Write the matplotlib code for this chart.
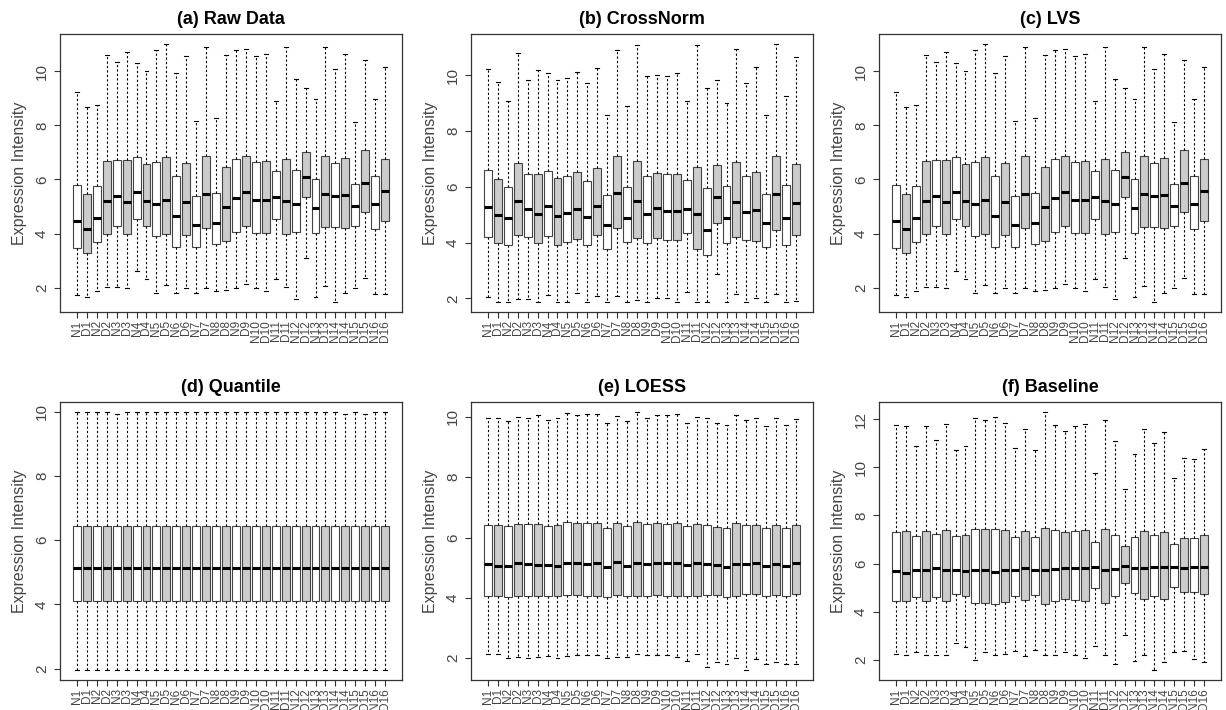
import matplotlib
matplotlib.use('Agg')
import matplotlib.pyplot as plt

plt.rcParams['font.family'] = ['Liberation Sans', 'DejaVu Sans']

# sample labels: N1, D1, N2, D2, ... N16, D16
labels = []
for i in range(1, 17):
    labels += ['N%d' % i, 'D%d' % i]

# (a) Raw Data: whisker low, q1, median, q3, whisker high
raw_lo  = [1.73, 1.65, 1.87, 2.02, 2.02, 2.00, 2.60, 2.32, 1.80, 2.10, 1.80, 2.00, 1.80, 2.00, 1.87, 1.90,
           2.00, 2.15, 2.00, 1.87, 2.33, 2.03, 1.58, 3.10, 1.67, 2.07, 1.48, 1.80, 1.98, 2.37, 1.77, 1.77]
raw_q1  = [3.47, 3.27, 3.70, 4.00, 4.27, 4.00, 4.55, 4.28, 3.92, 4.00, 3.52, 3.95, 3.50, 4.20, 3.60, 3.72,
           4.07, 4.28, 4.02, 4.02, 4.53, 3.97, 4.05, 5.35, 4.03, 4.25, 4.25, 4.22, 4.28, 4.80, 4.18, 4.48]
raw_med = [4.45, 4.17, 4.58, 5.22, 5.38, 5.18, 5.52, 5.22, 5.10, 5.25, 4.65, 5.15, 4.30, 5.45, 4.40, 4.98,
           5.32, 5.52, 5.25, 5.25, 5.37, 5.22, 5.08, 6.10, 4.95, 5.45, 5.38, 5.42, 5.02, 5.87, 5.08, 5.57]
raw_q3  = [5.80, 5.45, 5.77, 6.68, 6.73, 6.72, 6.85, 6.57, 6.65, 6.82, 6.13, 6.60, 5.38, 6.88, 5.50, 6.48,
           6.75, 6.88, 6.63, 6.68, 6.33, 6.77, 6.35, 7.00, 6.02, 6.88, 6.60, 6.80, 5.82, 7.08, 6.12, 6.75]
raw_hi  = [9.22, 8.68, 8.75, 10.60, 10.35, 10.70, 10.30, 10.00, 10.80, 11.00, 9.92, 10.58, 8.15, 10.90, 8.27, 10.60,
           10.78, 10.82, 10.57, 10.65, 8.92, 10.90, 9.72, 9.38, 8.97, 10.90, 10.10, 10.65, 8.12, 10.42, 8.98, 10.15]

# (b) CrossNorm
cn_lo  = [2.05, 1.88, 1.88, 1.97, 1.97, 1.88, 2.13, 1.88, 1.88, 2.20, 1.88, 2.07, 1.88, 2.10, 1.88, 1.93,
          1.88, 2.00, 2.00, 1.88, 2.23, 1.88, 1.88, 2.87, 1.88, 2.17, 1.88, 2.03, 1.88, 2.15, 1.88, 1.90]
cn_q1  = [4.20, 3.98, 3.93, 4.28, 4.20, 3.97, 4.23, 3.93, 4.03, 4.13, 3.90, 4.27, 3.77, 4.52, 4.03, 4.17,
          4.00, 4.17, 4.10, 4.08, 4.33, 3.78, 3.57, 4.72, 4.00, 4.20, 4.08, 4.05, 3.83, 4.45, 3.93, 4.27]
cn_med = [5.28, 4.98, 4.87, 5.50, 5.20, 5.03, 5.30, 4.97, 5.07, 5.20, 4.93, 5.33, 4.65, 5.80, 4.90, 5.50,
          5.02, 5.23, 5.13, 5.13, 5.20, 5.03, 4.45, 5.63, 4.90, 5.47, 5.10, 5.17, 4.70, 5.75, 4.87, 5.43]
cn_q3  = [6.60, 6.28, 6.00, 6.87, 6.45, 6.48, 6.57, 6.33, 6.38, 6.55, 6.22, 6.67, 5.70, 7.10, 6.00, 6.92,
          6.38, 6.50, 6.45, 6.48, 6.25, 6.70, 5.97, 6.77, 6.02, 6.88, 6.38, 6.53, 5.73, 7.12, 6.08, 6.83]
cn_hi  = [10.25, 9.75, 9.10, 10.80, 9.85, 10.18, 10.08, 9.85, 9.92, 10.12, 9.73, 10.28, 8.58, 10.90, 8.90, 11.10,
          9.98, 10.02, 9.97, 10.08, 9.10, 11.10, 9.55, 9.85, 9.00, 10.95, 9.73, 10.32, 8.58, 11.12, 9.28, 10.67]

# (c) LVS (reads the same as the raw data)
lvs_lo, lvs_q1, lvs_med, lvs_q3, lvs_hi = raw_lo, raw_q1, raw_med, raw_q3, raw_hi

# (d) Quantile
qn_lo  = [1.97] * 32
qn_q1  = [4.10] * 32
qn_med = [5.15] * 32
qn_q3  = [6.45] * 32
qn_hi  = [9.98, 9.98, 9.98, 9.98, 9.93, 9.98, 9.98, 9.98, 9.98, 9.98, 9.98, 9.98, 9.98, 9.98, 9.98, 9.98,
          9.98, 9.98, 9.98, 9.98, 9.98, 9.98, 9.98, 9.98, 9.98, 9.98, 9.98, 9.93, 9.98, 9.93, 9.98, 9.98]

# (e) LOESS
lo_lo  = [2.14, 2.13, 2.00, 2.03, 2.00, 2.03, 2.08, 2.00, 2.07, 2.10, 2.10, 2.10, 2.00, 2.03, 2.05, 2.15,
          2.10, 2.10, 2.10, 2.03, 1.92, 2.13, 1.70, 1.88, 1.82, 2.02, 1.62, 1.97, 1.80, 1.87, 1.80, 1.80]
lo_q1  = [4.07, 4.07, 4.03, 4.07, 4.07, 4.07, 4.07, 4.07, 4.10, 4.10, 4.07, 4.07, 4.03, 4.10, 4.07, 4.07,
          4.07, 4.10, 4.07, 4.07, 4.07, 4.07, 4.08, 4.08, 4.03, 4.07, 4.12, 4.12, 4.07, 4.10, 4.07, 4.13]
lo_med = [5.11, 5.07, 5.07, 5.17, 5.13, 5.10, 5.08, 5.07, 5.17, 5.17, 5.13, 5.17, 5.03, 5.20, 5.07, 5.17,
          5.13, 5.17, 5.17, 5.17, 5.10, 5.17, 5.13, 5.10, 5.03, 5.13, 5.13, 5.17, 5.07, 5.13, 5.07, 5.17]
lo_q3  = [6.41, 6.41, 6.37, 6.45, 6.45, 6.45, 6.38, 6.42, 6.50, 6.47, 6.47, 6.47, 6.32, 6.48, 6.38, 6.50,
          6.45, 6.48, 6.45, 6.47, 6.37, 6.45, 6.43, 6.35, 6.32, 6.47, 6.40, 6.43, 6.32, 6.42, 6.33, 6.43]
lo_hi  = [9.97, 9.95, 9.85, 10.00, 9.97, 10.05, 9.88, 9.97, 10.12, 10.07, 10.10, 10.10, 9.78, 10.02, 9.85, 10.15,
          9.97, 10.05, 10.05, 10.08, 9.78, 10.00, 9.97, 9.78, 9.72, 10.05, 9.88, 9.95, 9.70, 9.97, 9.72, 9.93]

# (f) Baseline
bl_lo  = [2.25, 2.22, 2.33, 2.22, 2.20, 2.20, 2.70, 2.53, 2.00, 2.32, 2.22, 2.27, 2.38, 2.17, 2.42, 2.20,
          2.20, 2.32, 2.22, 2.10, 2.57, 2.22, 1.82, 3.02, 1.97, 2.20, 1.60, 1.93, 2.35, 2.37, 2.05, 1.90]
bl_q1  = [4.43, 4.45, 4.63, 4.45, 4.62, 4.45, 4.75, 4.67, 4.37, 4.37, 4.33, 4.40, 4.67, 4.48, 4.70, 4.33,
          4.45, 4.55, 4.48, 4.45, 5.00, 4.37, 4.67, 5.20, 4.78, 4.52, 4.67, 4.55, 5.05, 4.82, 4.82, 4.73]
bl_med = [5.68, 5.63, 5.72, 5.75, 5.82, 5.72, 5.75, 5.68, 5.72, 5.75, 5.67, 5.75, 5.72, 5.82, 5.75, 5.75,
          5.78, 5.82, 5.82, 5.82, 5.85, 5.75, 5.78, 5.90, 5.82, 5.82, 5.85, 5.85, 5.88, 5.82, 5.85, 5.88]
bl_q3  = [7.33, 7.35, 7.13, 7.35, 7.25, 7.40, 7.13, 7.17, 7.45, 7.42, 7.45, 7.40, 7.10, 7.35, 7.10, 7.50,
          7.40, 7.33, 7.37, 7.40, 6.90, 7.43, 7.20, 6.72, 7.10, 7.35, 7.20, 7.33, 6.83, 7.05, 7.05, 7.17]
bl_hi  = [11.76, 11.72, 10.88, 11.72, 11.15, 11.80, 10.72, 10.88, 12.05, 11.97, 12.08, 11.83, 10.78, 11.60, 10.72, 12.28,
          11.75, 11.50, 11.70, 11.80, 9.75, 11.97, 11.08, 9.10, 10.57, 11.57, 11.00, 11.45, 9.57, 10.40, 10.33, 10.75]

panels = [
    ('(a) Raw Data', raw_lo, raw_q1, raw_med, raw_q3, raw_hi),
    ('(b) CrossNorm', cn_lo, cn_q1, cn_med, cn_q3, cn_hi),
    ('(c) LVS', lvs_lo, lvs_q1, lvs_med, lvs_q3, lvs_hi),
    ('(d) Quantile', qn_lo, qn_q1, qn_med, qn_q3, qn_hi),
    ('(e) LOESS', lo_lo, lo_q1, lo_med, lo_q3, lo_hi),
    ('(f) Baseline', bl_lo, bl_q1, bl_med, bl_q3, bl_hi),
]

W, H = 1226, 710
lefts = [60, 471, 879]
tops = [34, 402]
pw, ph = 342, 278

fig = plt.figure(figsize=(W / 100, H / 100), dpi=100, facecolor='white')

for k, (title, lo, q1, med, q3, hi) in enumerate(panels):
    r, c = divmod(k, 3)
    ax = fig.add_axes([lefts[c] / W, 1 - (tops[r] + ph) / H, pw / W, ph / H])
    stats = []
    for i in range(32):
        stats.append({'whislo': lo[i], 'q1': q1[i], 'med': med[i], 'q3': q3[i],
                      'whishi': hi[i], 'fliers': [], 'label': labels[i]})
    pos = list(range(1, 33))
    bp = ax.bxp(stats, positions=pos, widths=0.8, patch_artist=True, showfliers=False,
                boxprops=dict(edgecolor='#444444', linewidth=0.8),
                medianprops=dict(color='black', linewidth=2.2, solid_capstyle='butt'),
                whiskerprops=dict(color='black', linestyle=(0, (2, 2)), linewidth=0.8),
                capprops=dict(color='black', linewidth=0.8), capwidths=0.4)
    for i, box in enumerate(bp['boxes']):
        box.set_facecolor('white' if i % 2 == 0 else '#cccccc')

    ymin = min(lo)
    ymax = max(hi)
    pad = (ymax - ymin) * 0.04
    ax.set_ylim(ymin - pad, ymax + pad)
    ax.set_xlim(-0.7, 33.7)
    yt = [2, 4, 6, 8, 10] if k < 5 else [2, 4, 6, 8, 10, 12]
    ax.set_yticks(yt)
    ax.set_yticklabels([str(v) for v in yt], rotation=90, va='center', fontsize=11, color='#444444')
    ax.set_xticks(pos)
    ax.set_xticklabels(labels, rotation=90, fontsize=8.5, color='#444444')
    ax.tick_params(axis='both', length=4, width=0.8, color='#333333', pad=2)
    ax.tick_params(axis='y', pad=4)
    for s in ax.spines.values():
        s.set_linewidth(0.9)
        s.set_color('#333333')
    ax.set_ylabel('Expression Intensity', fontsize=11.5, color='#444444', labelpad=6)
    ax.set_title(title, fontsize=13, fontweight='bold', pad=7)

fig.savefig('out.png', dpi=100, facecolor='white')
